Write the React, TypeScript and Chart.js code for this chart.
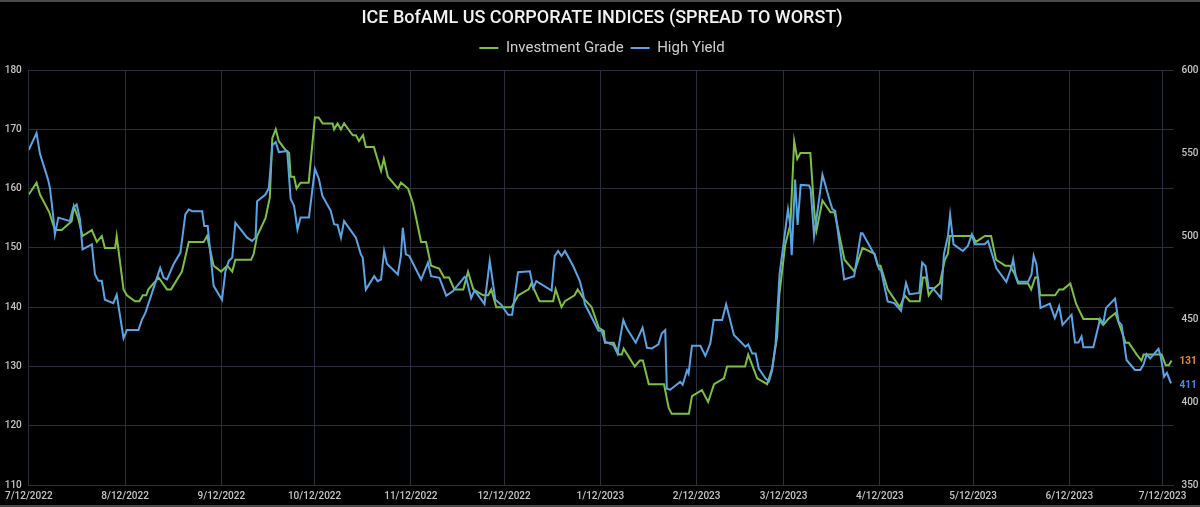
import React, { useEffect, useRef } from "react";
import { Chart, registerables } from "chart.js";

Chart.register(...registerables);

const TITLE = "ICE BofAML US CORPORATE INDICES (SPREAD TO WORST)";
const START_DATE = "7/12/2022";
const xTickLabels = [
  "7/12/2022", "8/12/2022", "9/12/2022", "10/12/2022", "11/12/2022", "12/12/2022",
  "1/12/2023", "2/12/2023", "3/12/2023", "4/12/2023", "5/12/2023", "6/12/2023", "7/12/2023",
];
const leftTicks = [110, 120, 130, 140, 150, 160, 170, 180];
const rightTicks = [350, 400, 450, 500, 550, 600];

// Investment Grade: days since 7/12/2022 and spread (bp)
const igDays = [0, 2.5, 3.6, 6.6, 7.8, 8.6, 10.6, 12.7, 13.8, 14.5, 15.9, 17.3, 20.3, 21.9, 23.5, 24.5, 27.8, 28.3, 30.5, 31.6, 34.2, 35.6, 36.7, 37.8, 38.5, 41.8, 44.5, 45.8, 49.3, 51.5, 56.3, 57.4, 59.5, 61.9, 63.9, 65.5, 66.5, 71.6, 72.4, 73.5, 76.2, 77.6, 78.4, 79.5, 80.5, 82.7, 83.8, 84.3, 85.4, 86.2, 87.5, 90.1, 92.1, 93.3, 94.6, 97.8, 98.3, 99.4, 100.5, 101.5, 104.3, 105.3, 106.3, 107.6, 108.5, 111.1, 113.4, 114.3, 115.6, 118.9, 119.8, 122.1, 123.7, 126.3, 127.9, 129.5, 132.1, 133.7, 135.3, 137, 139.9, 141.4, 143.1, 146.3, 147.9, 148.9, 150.5, 155.4, 157.6, 160.9, 161.8, 164.4, 168.8, 169.6, 171.5, 172.6, 175.7, 176.7, 178.6, 181.2, 183.5, 185.1, 185.5, 188.3, 189.9, 190.9, 191.5, 195.1, 196.7, 197.7, 199.6, 204.5, 206, 207, 212.5, 213.5, 216.7, 218.7, 220.6, 223.8, 224.8, 230.6, 231.6, 234.5, 237.7, 239.3, 240.9, 241.6, 243.5, 245.2, 246.4, 247.4, 248.4, 251.6, 252.9, 253.6, 255.5, 258.1, 259.4, 262.6, 265.8, 268.4, 272.3, 273.3, 274.2, 276.5, 280.4, 282, 283.6, 286.8, 287.8, 288.8, 289.7, 291, 293.3, 294.9, 295.9, 296.5, 303.9, 304.9, 307.8, 309.8, 311.4, 314.3, 315.9, 317.5, 318.5, 321.7, 322.7, 324, 324.9, 325.6, 330.4, 331.7, 333, 335.3, 337.2, 339.5, 344.3, 345.9, 347.5, 349.8, 350.8, 353.1, 354.1, 356.7, 358.2, 358.9, 362.1, 364.7, 366, 367, 367.9];
const igValues = [159, 161, 159, 156, 154, 153, 153, 154, 154.5, 157, 155, 152, 153, 151, 152, 150, 150, 152, 143, 142, 141, 141, 142, 142, 143, 145, 143, 143, 146, 151, 151, 152, 147, 146, 147, 146, 148, 148, 149, 152, 155, 158.5, 168.5, 170, 168, 166.5, 166, 162, 162, 160, 161, 161, 172, 172, 171, 171, 170, 171, 170, 171, 169, 169, 168, 169, 167, 167, 163, 165, 162, 160, 161, 160, 157.5, 151, 151, 147, 146.5, 145, 145, 143, 143, 146, 143, 142, 142, 143, 140, 140, 142, 143, 144, 141, 141, 143, 140, 141, 142, 143, 141.5, 140, 136.5, 136, 134, 134, 132, 132, 133, 130, 131, 131, 127, 127, 123, 122, 122, 125, 126, 124, 127, 128, 130, 130, 132, 128, 127, 129.7, 135, 142, 150.5, 154, 168, 165, 166, 166, 156, 153, 158, 156, 156, 148, 146, 150, 149, 147, 147, 143, 140, 142, 141, 141, 145, 145, 142, 143, 144, 148, 149, 152, 152, 151, 152, 152, 148, 147, 147, 145.5, 144, 144, 143, 145, 145, 142, 142, 143, 143, 144, 140.5, 138, 138, 137, 138, 139, 137.5, 134, 134, 132, 131, 132, 132, 132, 130.2, 130.2, 131];

// High Yield: days since 7/12/2022 and spread (bp)
const hyDays = [0, 2.5, 3.6, 6.2, 6.8, 7.8, 8.4, 9.5, 10.6, 13.2, 14.3, 15.4, 16.5, 17.3, 20.3, 21.3, 22.4, 23.5, 24.5, 27.2, 28.3, 30.5, 31.6, 35.3, 36.4, 37.5, 39.1, 42.3, 43.4, 44.5, 46.6, 48.8, 50.4, 51.5, 52.6, 55.8, 56.5, 57.6, 59.5, 62.2, 63.3, 64.4, 65.5, 66.5, 70.3, 71.9, 73, 73.5, 76.2, 77.3, 78.4, 79.5, 80.5, 83.2, 84.3, 85.4, 86.5, 87.5, 90.2, 92.1, 93.4, 94.5, 97.2, 98.3, 99.4, 100.5, 101.5, 105.3, 106.9, 107.5, 108.5, 111.2, 112.3, 113.4, 114.4, 115.3, 118.8, 119.8, 120.4, 121.4, 122.5, 126.3, 128.5, 129.5, 132.2, 134.4, 136.5, 140.3, 140.8, 142.4, 143.5, 146.7, 148.4, 150.2, 152.1, 154.3, 155.6, 157.5, 161.3, 162.4, 163.4, 168.3, 169.3, 170.4, 171.5, 172.6, 175.3, 177.4, 178.5, 179, 183.4, 184.4, 185.5, 188.2, 189.5, 191.4, 192.5, 195.4, 197.6, 199, 200.6, 202.7, 203.8, 204.9, 205.4, 206.5, 209.7, 210.5, 211.9, 212.4, 213.5, 216.2, 217.8, 219.4, 220.5, 223.2, 224.5, 227, 230.7, 231.6, 232.9, 234, 235, 237.2, 238.3, 239.3, 240.4, 241.7, 243.3, 244.4, 245.1, 245.6, 246.7, 247.5, 248.5, 251.2, 251.7, 252.8, 255.5, 257.7, 258.7, 259.6, 262.5, 265.7, 267.9, 268.4, 272.2, 273.8, 274.3, 276.5, 278.6, 280.8, 282.4, 283.5, 286.7, 287.6, 288.7, 289.7, 291, 293.7, 294.6, 295.9, 296.6, 297.7, 300.7, 302.3, 303.6, 304.5, 307.7, 308.8, 311.5, 314.7, 316.3, 316.9, 317.7, 318.5, 321.7, 322.8, 323.5, 324.4, 325.7, 328.7, 330.3, 331.7, 332.8, 335.7, 336.8, 337.9, 338.9, 339.5, 342.7, 344.9, 345.9, 346.8, 349.7, 350.8, 351.8, 353.4, 356.1, 357.8, 358.8, 359.9, 361, 363.7, 364.4, 365.5, 366.4, 367.7];
const hyValues = [552, 562, 549.5, 534, 529, 513, 501, 511, 510.5, 509, 517, 519, 510, 492, 495, 477, 473, 473, 461.6, 459.6, 464.7, 438.4, 443.4, 443.4, 449.5, 453.5, 462.6, 480.8, 474.8, 473.8, 483, 490, 513, 516, 515, 515, 506, 506, 470, 461.6, 478.8, 485, 487, 508, 499, 497, 499, 521, 525, 529, 554.6, 556.6, 550.6, 551.2, 522.3, 518.2, 504, 511.2, 511.2, 540.5, 534.4, 524.3, 515.2, 507.1, 506.7, 499, 509, 499, 489, 487, 467.7, 475.8, 472.8, 473.8, 491, 483.3, 476.8, 488, 505, 489, 488, 473.8, 484, 475.8, 474.8, 464.1, 466.7, 475.4, 474.8, 462.6, 467.3, 459, 485, 461.6, 458.6, 452.5, 452.5, 478.2, 478.8, 468.7, 472.8, 467.1, 487.9, 491, 488, 491, 481.8, 472.8, 464.7, 459, 443, 443, 436.3, 434.3, 429.2, 449.4, 444.4, 435.7, 444.8, 432.7, 432.3, 434.7, 441.4, 443.4, 408, 407.4, 412.1, 410.4, 419.1, 417.1, 433.9, 433.9, 427.8, 435.3, 449.4, 449.4, 458.9, 440.4, 433.3, 434.7, 429.2, 429.2, 420.1, 414.1, 412.5, 419.1, 435, 477, 500, 516, 507, 488.5, 534, 506.7, 530.8, 530.4, 528.3, 500, 537, 522.3, 516.2, 515.2, 473.8, 475.8, 501.6, 501.6, 489, 479.8, 479.8, 460.6, 459.6, 455, 471.7, 465, 465.7, 484, 481.8, 468.7, 468.7, 462.6, 489, 500, 512.8, 495, 491, 494, 501, 495, 495, 497, 480.5, 472.4, 480.9, 486, 476.3, 472.4, 472.4, 476.9, 488, 482.9, 456.7, 459.3, 450.6, 457.7, 446.5, 452.6, 435.8, 435.8, 439.5, 433, 433, 450, 447.2, 456.7, 462.3, 448.6, 446.5, 425.3, 419.3, 419.3, 422.3, 428.8, 426.3, 432, 427.3, 415.2, 417.6, 411.2];

const IG_COLOR = "#7cc043";
const HY_COLOR = "#5aa4e6";
const IG_END_COLOR = "#e8833a";
const HY_END_COLOR = "#4f86e6";
const GRID = "#283040";
const FONT = "Roboto, 'DejaVu Sans', sans-serif";
const TICK_FONT = "Roboto, 'DejaVu Sans', sans-serif";

function dayOffset(label: string): number {
  const [m, d, y] = label.split("/").map(Number);
  const [m0, d0, y0] = START_DATE.split("/").map(Number);
  return Math.round((Date.UTC(y, m - 1, d) - Date.UTC(y0, m0 - 1, d0)) / 86400000);
}

const tickDays = xTickLabels.map(dayOffset);

const endLabels = {
  id: "endLabels",
  afterDatasetsDraw(chart: any) {
    const ctx = chart.ctx;
    chart.data.datasets.forEach((ds: any, i: number) => {
      const meta = chart.getDatasetMeta(i);
      const last = meta.data[meta.data.length - 1];
      const v = ds.data[ds.data.length - 1].y;
      ctx.save();
      ctx.font = `bold 10px ${TICK_FONT}`;
      ctx.fillStyle = ds.endLabelColor;
      ctx.textBaseline = "middle";
      ctx.textAlign = "left";
      ctx.fillText(String(Math.round(v)), chart.chartArea.right + 6, last.y + (i === 0 ? 1 : 2));
      ctx.restore();
    });
  },
};

export default function App() {
  const canvasRef = useRef<HTMLCanvasElement | null>(null);

  useEffect(() => {
    const canvas = canvasRef.current;
    if (!canvas) return;
    const chart = new Chart(canvas, {
      type: "line",
      data: {
        datasets: [
          {
            label: "Investment Grade",
            data: igDays.map((x, i) => ({ x, y: igValues[i] })),
            borderColor: IG_COLOR,
            backgroundColor: IG_COLOR,
            borderWidth: 2,
            pointRadius: 0,
            tension: 0,
            yAxisID: "y",
            order: 2,
            endLabelColor: IG_END_COLOR,
          } as any,
          {
            label: "High Yield",
            data: hyDays.map((x, i) => ({ x, y: hyValues[i] })),
            borderColor: HY_COLOR,
            backgroundColor: HY_COLOR,
            borderWidth: 2,
            pointRadius: 0,
            tension: 0,
            yAxisID: "y1",
            order: 1,
            endLabelColor: HY_END_COLOR,
          } as any,
        ],
      },
      options: {
        animation: false,
        responsive: true,
        maintainAspectRatio: false,
        layout: { padding: { left: -2.5, right: -6.5, top: 0, bottom: 0 } },
        plugins: {
          title: {
            display: true,
            text: TITLE,
            color: "#f2f2f2",
            font: { family: FONT, size: 18, weight: "500" },
            padding: { top: 8, bottom: 4 },
          },
          subtitle: {
            display: true,
            text: "",
            weight: 500,
            font: { size: 3.7 },
            padding: 0,
          } as any,
          legend: {
            display: true,
            position: "top",
            labels: {
              color: "#cfcfcf",
              font: { family: FONT, size: 15 },
              boxWidth: 19,
              boxHeight: 2,
              padding: 7,
              sort: (a: any, b: any) => a.datasetIndex - b.datasetIndex,
              generateLabels: (c: any) => {
                const items = (Chart.defaults.plugins.legend.labels as any).generateLabels(c);
                items.forEach((it: any) => {
                  it.lineWidth = 0;
                });
                return items;
              },
            },
          },
          tooltip: { enabled: false },
        },
        scales: {
          x: {
            type: "linear",
            min: 0,
            max: 368.5,
            grid: { color: GRID, drawTicks: false, lineWidth: 1 },
            border: { color: GRID },
            afterBuildTicks: (axis: any) => {
              axis.ticks = tickDays.map((v) => ({ value: v }));
            },
            ticks: {
              autoSkip: false,
              maxRotation: 0,
              padding: 5,
              color: "#c4c4c4",
              font: { family: TICK_FONT, size: 10, weight: "500" },
              callback: (v: any) => {
                const idx = tickDays.indexOf(Number(v));
                return idx >= 0 ? xTickLabels[idx] : "";
              },
            },
          },
          y: {
            type: "linear",
            position: "left",
            min: leftTicks[0],
            max: leftTicks[leftTicks.length - 1],
            grid: { color: GRID, drawTicks: false },
            border: { color: GRID },
            afterBuildTicks: (axis: any) => {
              axis.ticks = leftTicks.map((v) => ({ value: v }));
            },
            ticks: {
              padding: 7,
              color: "#c4c4c4",
              font: { family: TICK_FONT, size: 10, weight: "500" },
            },
          },
          y1: {
            type: "linear",
            position: "right",
            min: rightTicks[0],
            max: rightTicks[rightTicks.length - 1],
            grid: { display: false, drawTicks: false },
            border: { display: false },
            afterBuildTicks: (axis: any) => {
              axis.ticks = rightTicks.map((v) => ({ value: v }));
            },
            ticks: {
              padding: 8,
              color: "#c4c4c4",
              font: { family: TICK_FONT, size: 10, weight: "500" },
            },
          },
        },
      },
      plugins: [endLabels],
    });
    return () => chart.destroy();
  }, []);

  return (
    <div
      style={{
        position: "fixed",
        left: 0,
        top: 0,
        width: 1200,
        height: 507,
        background: "#000",
      }}
    >
      <canvas ref={canvasRef} />
      <div style={{ position: "absolute", left: 0, top: 0, width: 1200, height: 2, background: "#4a4a4a" }} />
      <div style={{ position: "absolute", left: 0, bottom: 0, width: 1200, height: 2, background: "#4a4a4a" }} />
    </div>
  );
}
